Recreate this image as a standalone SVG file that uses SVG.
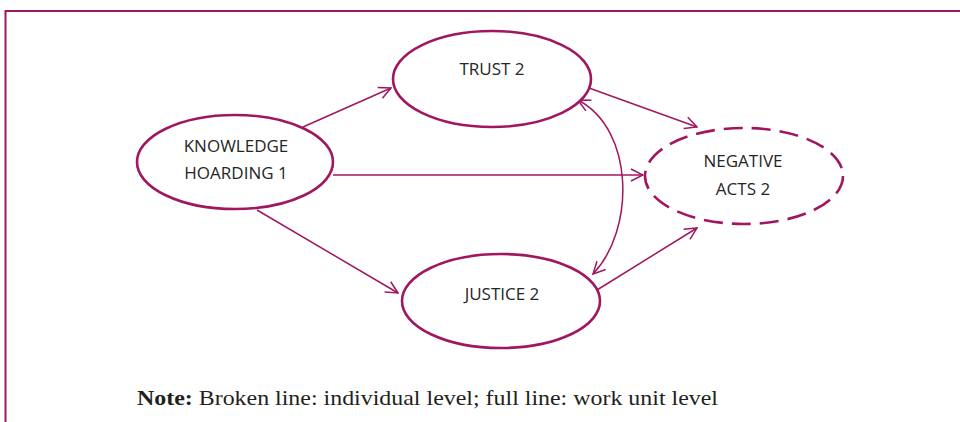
<svg xmlns="http://www.w3.org/2000/svg" width="960" height="422" viewBox="0 0 960 422">
<style>
.node{fill:#fff;stroke:#a1175f;stroke-width:2.6}
.dash{stroke-dasharray:19 9}
.lbl{font-family:"Open Sans","Liberation Sans",sans-serif;font-size:17px;fill:#262626;text-anchor:middle}
.con{fill:none;stroke:#a1175f;stroke-width:1.5}
.note{font-family:"Liberation Serif","Times New Roman",serif;font-size:22px;fill:#231f20}
</style>
<defs>
<marker id="arr" viewBox="0 0 14 14" refX="13" refY="7" markerWidth="14" markerHeight="14" markerUnits="userSpaceOnUse" orient="auto-start-reverse">
<path d="M1,1 L13,7 L1,13" fill="none" stroke="#a1175f" stroke-width="1.5"/>
</marker>
</defs>
<rect width="960" height="422" fill="#fff"/>
<path d="M960,11 L5.5,11 L5.5,422" fill="none" stroke="#a1175f" stroke-width="2"/>
<g id="connectors">
<line class="con" x1="303" y1="127" x2="391" y2="88" marker-end="url(#arr)"/>
<line class="con" x1="333" y1="175" x2="643" y2="175" marker-end="url(#arr)"/>
<line class="con" x1="257" y1="210" x2="398" y2="293" marker-end="url(#arr)"/>
<line class="con" x1="589" y1="88" x2="697" y2="127" marker-end="url(#arr)"/>
<line class="con" x1="597" y1="290" x2="697" y2="228" marker-end="url(#arr)"/>
<path class="con" d="M578,100 C635,130 635,230 593,274" marker-start="url(#arr)" marker-end="url(#arr)"/>
</g>
<g id="knowledge">
<ellipse class="node" cx="235" cy="162" rx="98" ry="47"/>
<text class="lbl" x="236" y="152">KNOWLEDGE</text>
<text class="lbl" x="236" y="179">HOARDING 1</text>
</g>
<g id="trust">
<ellipse class="node" cx="492" cy="79" rx="99" ry="48"/>
<text class="lbl" x="492" y="75">TRUST 2</text>
</g>
<g id="justice">
<ellipse class="node" cx="501" cy="301" rx="99" ry="47"/>
<text class="lbl" x="502" y="300">JUSTICE 2</text>
</g>
<g id="negative">
<ellipse class="node dash" cx="744" cy="176" rx="99" ry="48"/>
<text class="lbl" x="743" y="167">NEGATIVE</text>
<text class="lbl" x="743" y="195">ACTS 2</text>
</g>
<text class="note" x="137" y="405" textLength="581" lengthAdjust="spacingAndGlyphs"><tspan font-weight="bold">Note:</tspan> Broken line: individual level; full line: work unit level</text>
</svg>
